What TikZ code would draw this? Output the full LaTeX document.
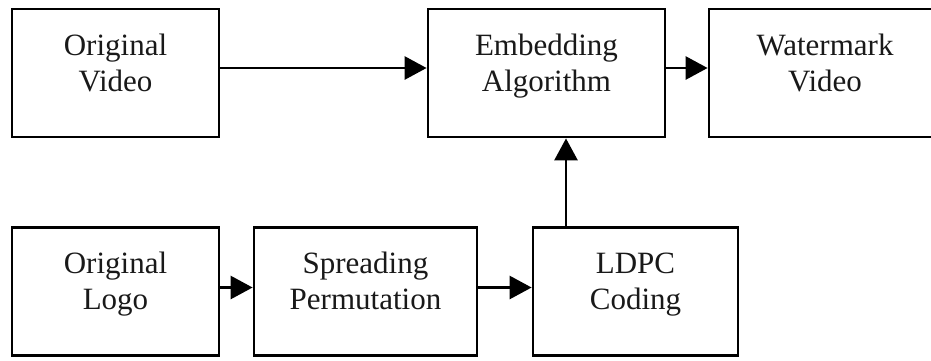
\documentclass[tikz,border=0pt]{standalone}
\usepackage{fontspec}
\setmainfont{Liberation Serif}
\usetikzlibrary{arrows.meta}
\begin{document}
\begin{tikzpicture}[x=1pt,y=-1pt]
        \tikzstyle{block}=[draw=black,line width=2.8pt,minimum height=128pt,inner sep=0pt]
        \tikzstyle{caption}=[align=center,anchor=base,inner sep=0pt,text=black!90,font=\fontsize{31}{36}\selectfont]
        \tikzstyle{flow}=[draw=black,line width=2.8pt,-{Triangle[length=22pt,width=23pt]}]
        \useasboundingbox (0,0) rectangle (931,360);
        \clip (0,0) rectangle (931,360);
       \begin{scope}
         % top row
         \node [block,minimum width=207pt] (ov) at (115.5,73) {};
         \node [block,minimum width=237pt] (ea) at (546.5,73) {};
         \node [block,minimum width=232pt] (wv) at (825,73) {};
         % bottom row
         \node [block,minimum width=207pt] (ol) at (115.5,291.5) {};
         \node [block,minimum width=223pt] (sp) at (365.5,291.5) {};
         \node [block,minimum width=205pt] (ldpc) at (635.5,291.5) {};
         % texts
         \node [caption] (ovt) at (115.5,91) {Original\\Video};
         \node [caption] (eat) at (546.5,91) {Embedding\\Algorithm};
         \node [caption] (wvt) at (825,91) {Watermark\\Video};
         \node [caption] (olt) at (115.5,309) {Original\\Logo};
         \node [caption] (spt) at (365.5,309) {Spreading\\Permutation};
         \node [caption] (ldpct) at (635.5,309) {LDPC\\Coding};
         % arrows
         \path[flow] ([yshift=5pt]ov.east) -- ([yshift=5pt]ea.west);
         \path[flow] ([yshift=5pt]ea.east) -- ([yshift=5pt]wv.west);
         \path[flow] ([yshift=4pt]ol.east) -- ([yshift=4pt]sp.west);
         \path[flow] ([yshift=4pt]sp.east) -- ([yshift=4pt]ldpc.west);
         \path[flow] ([xshift=-69.5pt]ldpc.north) -- ([xshift=-69.5pt]ldpc.north |- ea.south);
        \end{scope}
      \end{tikzpicture}
\end{document}
